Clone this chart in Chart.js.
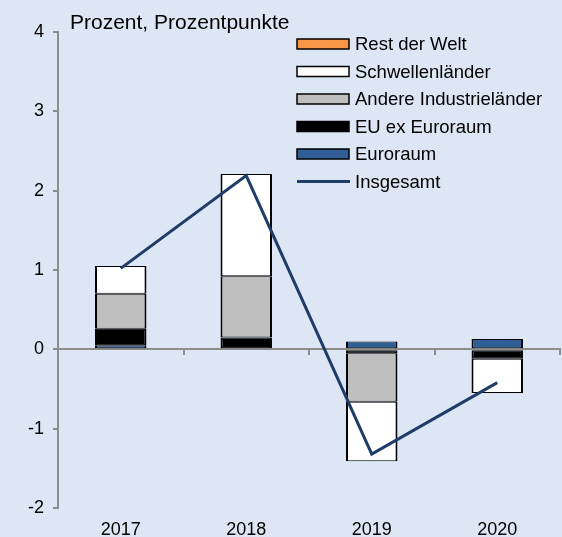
<!DOCTYPE html>
<html>
<head>
<meta charset="utf-8">
<script src="https://cdn.jsdelivr.net/npm/chart.js@4.4.1/dist/chart.umd.min.js"></script>
<style>
  body { margin: 0; background: #dce6f4; }
  canvas { display: block; }
</style>
</head>
<body>
<canvas id="myChart" width="562" height="537"></canvas>
<script>
var jahre = ['2017', '2018', '2019', '2020'];
var euroraum = [0.05, 0, 0.10, 0.13];
var euEx = [0.21, 0.15, -0.05, -0.12];
var andere = [0.44, 0.77, -0.61, 0];
var schwellen = [0.35, 1.29, -0.75, -0.43];
var restWelt = [0, 0, 0, 0];
var insgesamt = [1.02, 2.19, -1.32, -0.42];
var yTicks = [-2, -1, 0, 1, 2, 3, 4];

var schrift = 'Liberation Sans, Arial, sans-serif';
var grau = '#8c8c8c';

function balken(name, werte, farbe) {
    return {
        type: 'bar',
        label: name,
        data: werte,
        backgroundColor: farbe,
        borderColor: '#000',
        borderWidth: { top: 1, bottom: 1, left: 2, right: 2 },
        borderSkipped: false,
        inflateAmount: 0,
        stack: 'teile',
        order: 1,
        categoryPercentage: 1,
        barPercentage: 0.41
    };
}

// titel und legende selber zeichnen
var extras = {
    id: 'extras',
    afterDraw: function (chart) {
        var c = chart.ctx;
        c.save();
        c.fillStyle = '#000';
        c.font = '21px ' + schrift;
        c.textBaseline = 'alphabetic';
        c.textAlign = 'left';
        c.fillText('Prozent, Prozentpunkte', 70, 29);

        var ds = chart.data.datasets;
        var reihenfolge = [4, 3, 2, 1, 0, 5];
        c.font = '18.5px ' + schrift;
        c.textBaseline = 'middle';
        for (var i = 0; i < reihenfolge.length; i++) {
            var d = ds[reihenfolge[i]];
            var y = 44 + i * 27.5;
            if (d.type === 'line') {
                c.strokeStyle = d.borderColor;
                c.lineWidth = 3;
                c.beginPath();
                c.moveTo(297, y);
                c.lineTo(350, y);
                c.stroke();
            } else {
                c.fillStyle = d.backgroundColor;
                c.fillRect(297, y - 5, 52, 10);
                c.strokeStyle = '#000';
                c.lineWidth = 1.5;
                c.strokeRect(297, y - 5, 52, 10);
            }
            c.fillStyle = '#000';
            c.fillText(d.label, 355, y + 1);
        }
        c.restore();
    }
};

var ctx = document.getElementById('myChart');
new Chart(ctx, {
    data: {
        labels: jahre,
        datasets: [
            balken('Euroraum', euroraum, '#2f5f96'),
            balken('EU ex Euroraum', euEx, '#000000'),
            balken('Andere Industrieländer', andere, '#bfbfbf'),
            balken('Schwellenländer', schwellen, '#ffffff'),
            balken('Rest der Welt', restWelt, '#f79646'),
            {
                type: 'line',
                label: 'Insgesamt',
                data: insgesamt,
                borderColor: '#1f3d68',
                borderWidth: 3,
                pointRadius: 0,
                tension: 0,
                fill: false,
                stack: 'summe',
                order: 0
            }
        ]
    },
    options: {
        responsive: false,
        animation: false,
        layout: { padding: { top: 32, right: 2, left: 0, bottom: 0 } },
        plugins: {
            legend: { display: false },
            tooltip: { enabled: false },
            title: { display: false }
        },
        scales: {
            x: {
                stacked: true,
                offset: true,
                grid: { display: false, drawTicks: false },
                border: { display: false },
                ticks: { color: '#000', font: { family: schrift, size: 18 }, padding: 11, maxRotation: 0 },
                afterFit: function (s) { s.height = 29; }
            },
            xNull: {
                type: 'category',
                position: { y: 0 },
                offset: true,
                grid: { drawOnChartArea: false, offset: true, tickLength: 5, color: grau, lineWidth: 2 },
                border: { color: grau, width: 2 },
                ticks: { display: false }
            },
            y: {
                stacked: true,
                min: -2,
                max: 4,
                afterBuildTicks: function (s) {
                    s.ticks = yTicks.map(function (v) { return { value: v }; });
                },
                grid: { drawOnChartArea: false, tickLength: 5, color: grau, lineWidth: 2 },
                border: { color: grau, width: 2 },
                ticks: { color: '#000', font: { family: schrift, size: 18 }, padding: 9 },
                afterFit: function (s) { s.width = 58; }
            }
        }
    },
    plugins: [extras]
});
</script>
</body>
</html>
